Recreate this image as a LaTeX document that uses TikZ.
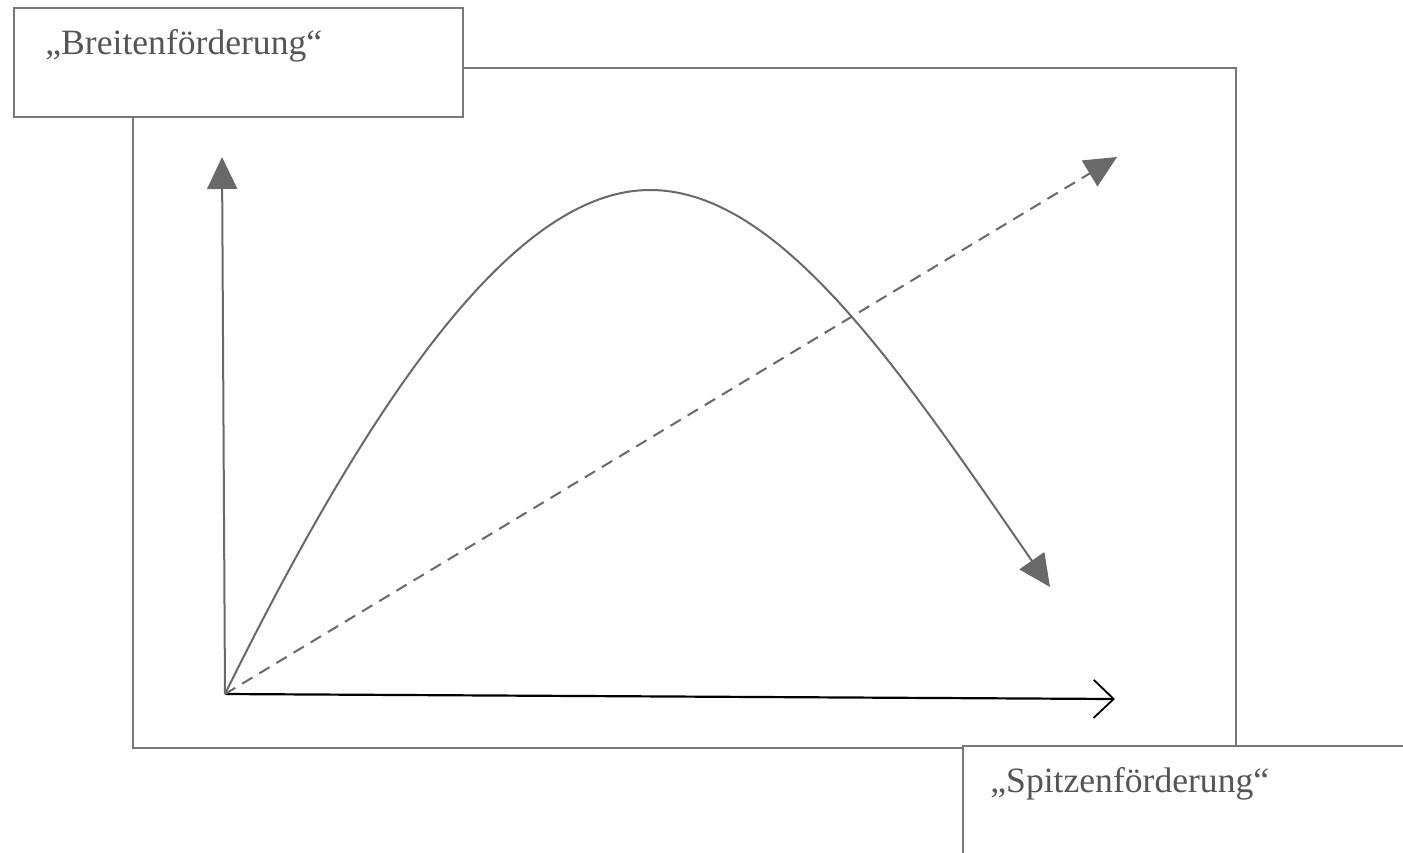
\documentclass[tikz,border=0pt]{standalone}
\usepackage{fontspec}
\setmainfont{Liberation Serif}
\usetikzlibrary{arrows.meta}
\definecolor{linegray}{RGB}{105,105,105}
\definecolor{framegray}{RGB}{120,120,120}
\definecolor{textgray}{RGB}{85,85,85}
\tikzset{
  framebox/.style={draw=framegray, line width=1pt},
  labelbox/.style={draw=framegray, line width=1pt, fill=white, rectangle, inner sep=0pt},
  labeltext/.style={anchor=base west, inner sep=0pt, text=textgray, font=\fontsize{17.8}{20}\selectfont},
  graytip/.style={-{Triangle[length=16pt,width=15pt]}},
  curveline/.style={draw=linegray, line width=1pt},
}
\begin{document}
\begin{tikzpicture}[x=0.5pt,y=-0.5pt]
\useasboundingbox (0,0) rectangle (1403,852);
\fill[white] (0,0) rectangle (1403,852);
% main frame
\draw[framebox] (133,68) rectangle (1236,748);
% label boxes
\node[labelbox, minimum width=224.5pt, minimum height=54.5pt, anchor=north west] (bbox) at (13,7) {};
\node[labeltext] (btext) at (45,54) {„Breitenförderung“};
\node[labelbox, minimum width=230pt, minimum height=60pt, anchor=north west] (sbox) at (962,745) {};
\node[labeltext] (stext) at (990,792) {„Spitzenförderung“};
% axes
\coordinate (O) at (225,694);
\coordinate (ytip) at (222,157);
\coordinate (xtip) at (1115,699);
\coordinate (peak) at (650,190);
\coordinate (ctip) at (1050,587);
\coordinate (dtip) at (1117,157);
\draw[curveline, graytip, draw=linegray, fill=linegray] (O) -- (ytip);
\draw[black, line width=1.1pt, -{Straight Barb[length=10pt,width=19pt,line width=0.9pt]}] (O) -- (xtip);
% curve
\draw[curveline, graytip, fill=none] (O) .. controls (380,380) and (520,190) .. (peak)
  .. controls (780,190) and (900,370) .. (ctip);
% dashed line
\draw[curveline, dash pattern=on 6pt off 4pt, graytip] (O) -- (dtip);
\end{tikzpicture}
\end{document}
